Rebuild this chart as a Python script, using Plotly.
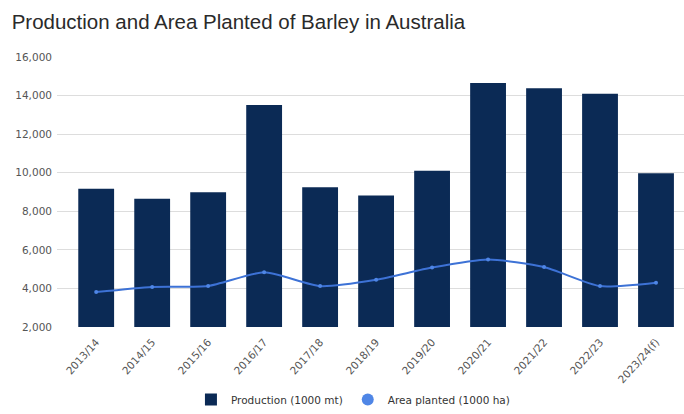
import plotly.graph_objects as go

seasons = ["2013/14", "2014/15", "2015/16", "2016/17", "2017/18", "2018/19",
           "2019/20", "2020/21", "2021/22", "2022/23", "2023/24(f)"]
production = [9170, 8650, 8990, 13510, 9250, 8820, 10100, 14650, 14380, 14100, 9970]
area_planted = [3810, 4080, 4130, 4840, 4120, 4450, 5080, 5500, 5110, 4120, 4300]
y_ticks = [2000, 4000, 6000, 8000, 10000, 12000, 14000, 16000]

tick_font = "DejaVu Sans, Liberation Sans, sans-serif"

fig = go.Figure()
fig.add_trace(go.Bar(
    x=seasons, y=production, name="Production (1000 mt)",
    marker=dict(color="#0b2a55", line=dict(width=0)),
))
fig.add_trace(go.Scatter(
    x=seasons, y=area_planted, name="Area planted (1000 ha)",
    mode="lines", showlegend=False,
    line=dict(color="#3d72d6", width=2, shape="spline", smoothing=0.6),
))
fig.add_trace(go.Scatter(
    x=seasons, y=area_planted, name="Area planted (1000 ha)",
    mode="markers", showlegend=True,
    marker=dict(color="#4f86e6", size=4),
))

fig.update_layout(
    width=684, height=414,
    margin=dict(l=57, r=0, t=57, b=83),
    paper_bgcolor="white", plot_bgcolor="white",
    title=dict(text="Production and Area Planted of Barley in Australia",
               x=0.017, xanchor="left", y=0.947, yanchor="middle",
               font=dict(family="Liberation Sans, Arial, sans-serif", size=20.5, color="#2a2a2a")),
    font=dict(family=tick_font, size=10, color="#444444"),
    bargap=0.36,
    showlegend=True,
    legend=dict(orientation="h", x=0.472, xanchor="center", y=-0.27, yanchor="middle",
                font=dict(family=tick_font, size=10.5, color="#333333"),
                itemsizing="constant", itemwidth=30),
    xaxis=dict(range=[-0.7, 10.5], tickangle=-48, showgrid=False, showline=False, ticks="",
               ticklabelstandoff=6,
               tickfont=dict(family=tick_font, size=10.5, color="#555555")),
    yaxis=dict(range=[2000, 16000], tickvals=y_ticks, tickformat=",",
               showgrid=True, gridcolor="#dddddd", gridwidth=1, zeroline=False,
               showline=False, ticks="", ticklabelstandoff=4,
               tickfont=dict(family=tick_font, size=10.5, color="#555555")),
)

fig.write_html("out.html")
